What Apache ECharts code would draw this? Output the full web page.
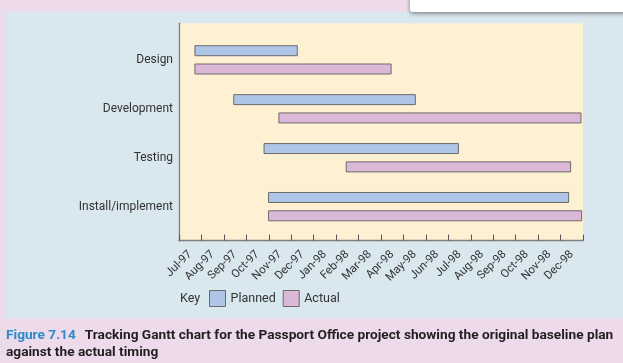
<!DOCTYPE html>
<html>
<head>
<meta charset="utf-8">
<script src="https://cdn.jsdelivr.net/npm/echarts@6/dist/echarts.min.js"></script>
<style>
html,body{margin:0;padding:0;background:#eddaea;}
#chart{width:623px;height:363px;}
</style>
</head>
<body>
<div id="chart"></div>
<script>
// Data (month offsets from start of Jul-97)
const months = ['Jul-97','Aug-97','Sep-97','Oct-97','Nov-97','Dec-97','Jan-98','Feb-98','Mar-98','Apr-98','May-98','Jun-98','Jul-98','Aug-98','Sep-98','Oct-98','Nov-98','Dec-98'];
const tasks = ['Design','Development','Testing','Install/implement'];
const plannedStart = [0.71, 2.44, 3.79, 3.99];
const plannedEnd   = [5.27, 10.53, 12.45, 17.36];
const actualStart  = [0.71, 4.45, 7.45, 3.99];
const actualEnd    = [9.45, 17.91, 17.45, 17.94];

const FONT = 'Roboto';
const plannedColor = '#aec5e7';
const actualColor = '#dcb8d8';
const barBorder = '#6b6b6b';

function mk(starts, ends){ return tasks.map((t,i)=>[i, starts[i], ends[i]]); }

function renderer(offset){
  return function(params, api){
    const y = api.value(0);
    const s = api.coord([api.value(1), y]);
    const e = api.coord([api.value(2), y]);
    const h = 10;
    return {
      type:'rect',
      shape:{x:s[0], y:s[1]+offset-h/2, width:e[0]-s[0], height:h},
      style:api.style({stroke:barBorder, lineWidth:1})
    };
  };
}

const chart = echarts.init(document.getElementById('chart'), null, {renderer:'canvas'});
chart.setOption({
  backgroundColor:'#eddaea',
  animation:false,
  textStyle:{fontFamily:FONT},
  graphic:[
    {type:'rect', z:-10, shape:{x:6, y:12, width:640, height:306.3}, style:{fill:'#d9e7ef'}},
    {type:'rect', z:10, shape:{x:410, y:-10, width:230, height:22, r:3}, style:{fill:'#ffffff', shadowBlur:4, shadowColor:'rgba(0,0,0,0.45)', shadowOffsetY:1.5}},
    {type:'text', left:180, top:292, style:{text:'Key', fontFamily:FONT, fontSize:12.5, fill:'#333'}}
  ],
  title:{
    left:6, top:326.5, padding:0,
    text:'{b|Figure 7.14}  {n|Tracking Gantt chart for the Passport Office project showing the original baseline plan}\n{n|against the actual timing}',
    textStyle:{
      rich:{
        b:{color:'#2a8ccc', fontWeight:'bold', fontSize:13.7, fontFamily:FONT, lineHeight:17},
        n:{color:'#231f20', fontWeight:'bold', fontSize:13.7, fontFamily:FONT, lineHeight:17}
      }
    }
  },
  legend:{
    left:209, top:290, padding:0,
    itemWidth:16, itemHeight:16, itemGap:7,
    icon:'rect',
    textStyle:{fontFamily:FONT, fontSize:12.5, color:'#333'},
    data:[
      {name:'Planned', itemStyle:{color:plannedColor, borderColor:barBorder, borderWidth:1}},
      {name:'Actual', itemStyle:{color:actualColor, borderColor:barBorder, borderWidth:1}}
    ]
  },
  grid:[
    {left:179, top:23.3, width:404, height:217.4, show:true, backgroundColor:'#fef0d2', borderWidth:0},
    {left:179, top:35.4, width:404, height:195.7}
  ],
  xAxis:[
    {gridIndex:0, type:'category', data:months, boundaryGap:true,
      axisLine:{show:true, lineStyle:{color:'#808080', width:1.3}},
      axisTick:{show:true, inside:true, length:6, interval:0, lineStyle:{color:'#555', width:1}},
      axisLabel:{rotate:45, interval:0, margin:12, fontFamily:FONT, fontSize:11.5, color:'#333'},
      splitLine:{show:false}},
    {gridIndex:1, type:'value', min:0, max:18, show:false}
  ],
  yAxis:[
    {gridIndex:0, type:'value', min:0, max:1, axisLine:{show:true, lineStyle:{color:'#808080', width:1.3}},
      axisTick:{show:false}, axisLabel:{show:false}, splitLine:{show:false}},
    {gridIndex:1, type:'category', data:tasks, inverse:true,
      axisLine:{show:false}, axisTick:{show:false},
      axisLabel:{margin:6, fontFamily:FONT, fontSize:12, color:'#333'}}
  ],
  series:[
    {name:'Planned', type:'custom', xAxisIndex:1, yAxisIndex:1, renderItem:renderer(-9.15),
      itemStyle:{color:plannedColor}, encode:{x:[1,2], y:0}, data:mk(plannedStart, plannedEnd)},
    {name:'Actual', type:'custom', xAxisIndex:1, yAxisIndex:1, renderItem:renderer(9.15),
      itemStyle:{color:actualColor}, encode:{x:[1,2], y:0}, data:mk(actualStart, actualEnd)}
  ]
});
</script>
</body>
</html>
